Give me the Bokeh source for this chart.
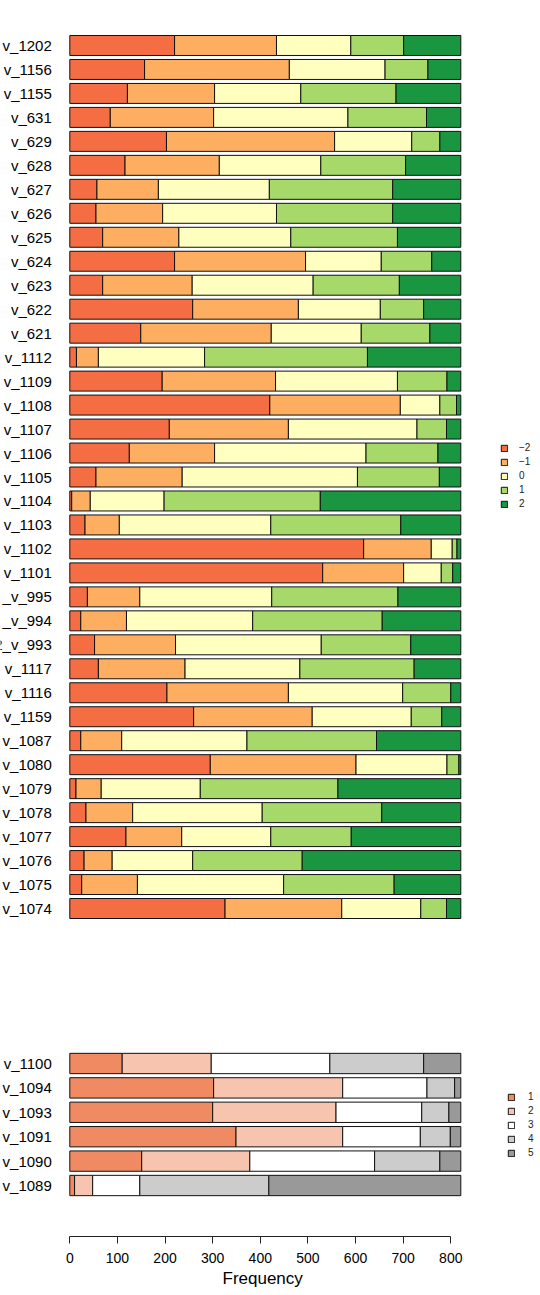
from bokeh.plotting import figure
from bokeh.models import Range1d, LinearAxis, FixedTicker, Title, ColumnDataSource
from bokeh.layouts import column
from bokeh.embed import file_html
from bokeh.resources import INLINE
from bokeh.core.properties import value

# ---------------- data: top panel (levels -2 .. 2) ----------------
top_names = ["v_1202", "v_1156", "v_1155", "v_631", "v_629", "v_628", "v_627", "v_626",
             "v_625", "v_624", "v_623", "v_622", "v_621", "v_1112", "v_1109", "v_1108",
             "v_1107", "v_1106", "v_1105", "v_1104", "v_1103", "v_1102", "v_1101",
             "_v_995", "_v_994", "2_v_993", "v_1117", "v_1116", "v_1159", "v_1087",
             "v_1080", "v_1079", "v_1078", "v_1077", "v_1076", "v_1075", "v_1074"]
top_m2 = [220, 157, 121, 85, 203, 116, 57, 55, 69, 220, 69, 258, 149, 14, 194, 420,
          209, 125, 55, 4, 32, 617, 531, 37, 23, 52, 60, 204, 260, 23, 295, 13, 34,
          118, 30, 25, 326]
top_m1 = [214, 304, 183, 217, 353, 198, 129, 140, 160, 275, 188, 222, 274, 46, 238, 274,
          250, 179, 181, 39, 72, 142, 170, 110, 96, 170, 182, 255, 249, 86, 306, 53, 98,
          117, 59, 117, 245]
top_z0 = [156, 201, 181, 282, 162, 213, 233, 239, 235, 159, 254, 172, 189, 223, 256, 83,
          270, 318, 368, 155, 318, 44, 79, 277, 265, 306, 241, 240, 208, 263, 191, 208, 272,
          187, 169, 307, 166]
top_p1 = [111, 90, 200, 165, 59, 178, 259, 244, 224, 106, 181, 91, 144, 342, 104, 35,
          62, 151, 172, 328, 273, 10, 24, 265, 272, 188, 240, 101, 64, 272, 25, 289, 251,
          169, 230, 232, 54]
top_p2 = [120, 69, 136, 72, 44, 116, 143, 143, 133, 61, 129, 78, 65, 196, 29, 9,
          30, 48, 45, 295, 126, 8, 17, 132, 165, 105, 98, 21, 40, 177, 4, 258, 166,
          230, 333, 140, 30]
top_levels = ["\u22122", "\u22121", "0", "1", "2"]
top_colors = ["#F46D43", "#FDAE61", "#FFFFBF", "#A6D96A", "#1A9641"]

# ---------------- data: bottom panel (levels 1 .. 5) ----------------
bot_names = ["v_1100", "v_1094", "v_1093", "v_1091", "v_1090", "v_1089"]
bot_l1 = [110, 302, 300, 349, 151, 10]
bot_l2 = [187, 271, 259, 224, 227, 38]
bot_l3 = [249, 177, 180, 163, 262, 99]
bot_l4 = [197, 58, 57, 63, 137, 271]
bot_l5 = [78, 13, 25, 22, 44, 403]
bot_levels = ["1", "2", "3", "4", "5"]
bot_colors = ["#EF8A62", "#F7C5AF", "#FFFFFF", "#CCCCCC", "#999999"]

x_ticks = [0, 100, 200, 300, 400, 500, 600, 700, 800]
x_title = "Frequency"

# ---------------- layout constants ----------------
FONT = "Liberation Sans"
FRAME_W = 540
ZERO_PX = 69.3              # offset of x=0 from frame left
PPU = 381.0 / 800.0         # pixels per count unit
X_START = -ZERO_PX / PPU
X_END = X_START + FRAME_W / PPU
BAR_H = 1 / 1.2


def panel(names, series, levels, colors, frame_h, pad_top, pad_bottom,
          border_top, border_bottom, legend_xy, label_standoff):
    n = len(names)
    ys = [n - 1 - i for i in range(n)]
    keys = ["s%d" % k for k in range(len(series))]
    data = {"y": ys, "name": names}
    for k, s in zip(keys, series):
        data[k] = s
    src = ColumnDataSource(data)

    p = figure(frame_width=FRAME_W, frame_height=frame_h,
               x_range=Range1d(X_START, X_END),
               y_range=Range1d(-0.5 - pad_bottom, n - 0.5 + pad_top),
               x_axis_location=None, y_axis_location=None,
               output_backend="svg", toolbar_location=None,
               min_border_left=0, min_border_right=0,
               min_border_top=border_top, min_border_bottom=border_bottom)
    p.outline_line_color = None
    p.xgrid.visible = False
    p.ygrid.visible = False
    p.background_fill_color = "white"
    p.border_fill_color = "white"

    p.hbar_stack(keys, y="y", height=BAR_H, fill_color=colors,
                 line_color="#111111", line_width=1, source=src,
                 legend_label=levels)

    p.text(x=0, y="y", text="name", source=src, x_offset=-18,
           text_align="right", text_baseline="middle",
           text_font=value(FONT), text_font_size="15px", text_color="black")

    lg = p.legend[0]
    lg.location = legend_xy
    lg.border_line_color = None
    lg.background_fill_alpha = 0
    lg.padding = 0
    lg.margin = 0
    lg.spacing = 3
    lg.glyph_width = 8
    lg.glyph_height = 8
    lg.label_height = 10
    lg.label_standoff = label_standoff
    lg.label_text_font = FONT
    lg.label_text_font_size = "10px"
    lg.label_text_color = "#222222"
    lg.label_text_baseline = "middle"
    return p


top = panel(top_names, [top_m2, top_m1, top_z0, top_p1, top_p2], top_levels,
            top_colors, frame_h=887, pad_top=0.0, pad_bottom=0.0,
            border_top=33, border_bottom=80, legend_xy=(500, 411),
            label_standoff=11)

bot = panel(bot_names, [bot_l1, bot_l2, bot_l3, bot_l4, bot_l5], bot_levels,
            bot_colors, frame_h=206, pad_top=33 / 24.4 - 0.5, pad_bottom=51 / 24.4 - 0.5,
            border_top=30, border_bottom=57, legend_xy=(507, 78),
            label_standoff=13)

ax = LinearAxis(bounds=(x_ticks[0], x_ticks[-1]), ticker=FixedTicker(ticks=x_ticks))
ax.axis_line_color = "#222222"
ax.axis_line_width = 1
ax.major_tick_line_color = "#222222"
ax.major_tick_out = 7
ax.major_tick_in = 0
ax.minor_tick_out = 0
ax.minor_tick_in = 0
ax.major_label_standoff = 9
ax.major_label_text_font = FONT
ax.major_label_text_font_size = "14px"
ax.major_label_text_color = "black"
bot.add_layout(ax, "below")

bot.add_layout(Title(text=x_title, align="left", offset=222, standoff=2,
                     text_font=FONT, text_font_size="17px", text_font_style="normal",
                     text_color="black"), "below")

layout = column(top, bot, spacing=0)
open("out.html", "w").write(file_html(layout, INLINE))
